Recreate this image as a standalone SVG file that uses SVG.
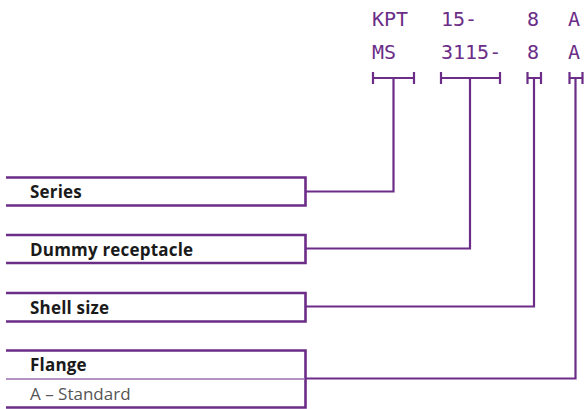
<svg xmlns="http://www.w3.org/2000/svg" width="584" height="409" viewBox="0 0 584 409">
<style>
.code{font-family:"DejaVu Sans Mono",monospace;font-size:20px;fill:#6b2d87}
.box{fill:none;stroke:#6b2d87;stroke-width:2.6}
.ln{fill:none;stroke:#6b2d87;stroke-width:2.2}
.lbl{font-family:"Open Sans","Noto Sans",sans-serif;font-size:17px;letter-spacing:0.2px;font-weight:bold;fill:#1a1a1a}
.sub{font-family:"Open Sans","Noto Sans",sans-serif;font-size:17px;fill:#555}
.div{stroke:#9a6fb0;stroke-width:1.4}
</style>
<rect width="584" height="409" fill="#fff"/>
<g id="code">
<text class="code" x="372" y="26">KPT</text>
<text class="code" x="441" y="26">15-</text>
<text class="code" x="527" y="26">8</text>
<text class="code" x="568" y="26">A</text>
<text class="code" x="372" y="59">MS</text>
<text class="code" x="441" y="59">3115-</text>
<text class="code" x="527" y="59">8</text>
<text class="code" x="568" y="59">A</text>
</g>
<g id="series">
<path class="box" d="M6,177.5H305.5V205.5H6"/>
<text class="lbl" x="30" y="198">Series</text>
</g>
<g id="dummy">
<path class="box" d="M6,235H305.5V263H6"/>
<text class="lbl" x="30" y="256">Dummy receptacle</text>
</g>
<g id="shell">
<path class="box" d="M6,293H305.5V321.5H6"/>
<text class="lbl" x="30" y="313.5">Shell size</text>
</g>
<g id="flange">
<path class="box" d="M6,350.5H305.5V407.5H6"/>
<line class="div" x1="6" y1="379" x2="305" y2="379"/>
<text class="lbl" x="30" y="371">Flange</text>
<text class="sub" x="30" y="399.5">A – Standard</text>
</g>
<g id="connectors">
<path class="ln" d="M373,72V84M373,78H414M414,72V84M393.5,78V191.5H305.5"/>
<path class="ln" d="M441,72V84M441,78H500M500,72V84M470,78V248.5H305.5"/>
<path class="ln" d="M527.5,72V84M527.5,78H541M541,72V84M534,78V306.5H305.5"/>
<path class="ln" d="M569.5,72V84M569.5,78H582.5M582.5,72V84M575.5,78V378.5H305.5"/>
</g>
</svg>
